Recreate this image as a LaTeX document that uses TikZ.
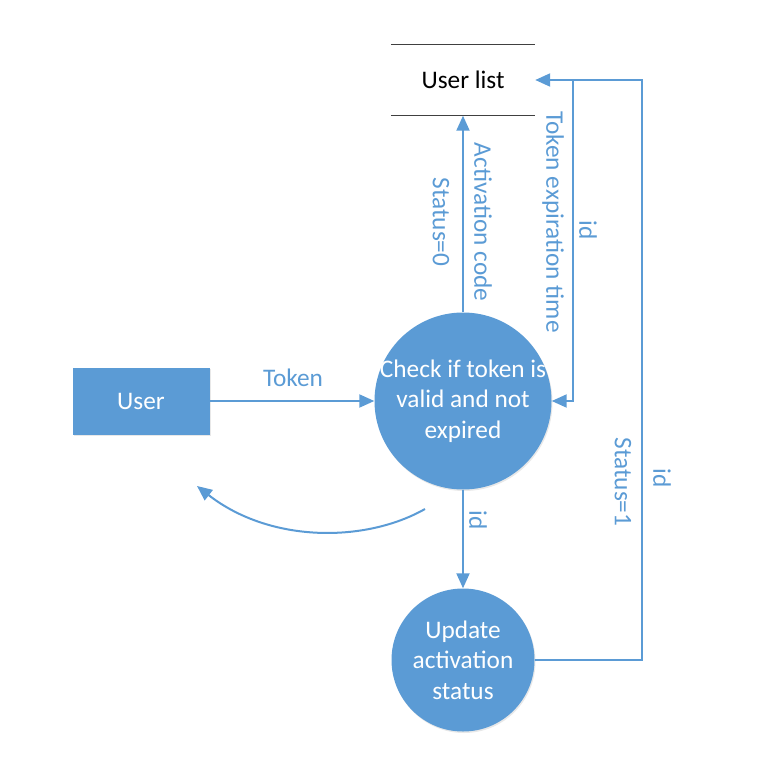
\documentclass[tikz,border=0pt]{standalone}
\usepackage{fontspec}
\setmainfont{Carlito}
\usetikzlibrary{arrows.meta,shadows}
\definecolor{flowblue}{HTML}{5B9BD5}
\definecolor{storegray}{HTML}{404040}
\newcommand{\dfdfont}{\fontsize{25.3}{30.5}\selectfont}

\begin{document}
\begin{tikzpicture}[
    x=1pt, y=-1pt,
    process/.style={circle, fill=flowblue, draw=none, inner sep=0pt,
        drop shadow={opacity=0.18, shadow xshift=1pt, shadow yshift=-1.5pt}},
    proctext/.style={text=white, inner sep=0pt, align=center, font=\dfdfont},
    entity/.style={rectangle, fill=flowblue, draw=none, text=white,
        minimum width=137pt, minimum height=67pt, font=\dfdfont,
        drop shadow={opacity=0.18, shadow xshift=1pt, shadow yshift=-1.5pt}},
    store/.style={rectangle, draw=none, minimum width=144pt,
        minimum height=71pt, font=\dfdfont},
    flow/.style={draw=flowblue, line width=2pt,
        -{Triangle[length=15pt, width=13pt]}},
    flowlabel/.style={text=flowblue, font=\dfdfont, inner sep=0pt}
]
    \useasboundingbox (0,0) rectangle (758,760);
    \node[entity] (user) at (141,401) {User};
    \node[process, minimum size=177pt] (check) at (463,401) {};
    \node[proctext] (checktext) at (check.center)
        {Check if token is\\valid and not\\expired};
    \node[process, minimum size=143pt] (update) at (463,660) {};
    \node[proctext] (updatetext) at (update.center)
        {Update\\activation\\status};
    \node[store] (list) at (463,80) {User list};
    \draw[storegray, line width=1.3pt] (list.north west) -- (list.north east);
    \draw[storegray, line width=1.3pt] (list.south west) -- (list.south east);
    \coordinate (tj) at (573,80);
    \coordinate (rc) at (642,80);
    \coordinate (cs) at (425,509);
    \coordinate (ce) at (197,486);
    \draw[flow] (user) -- (check);
    \draw[flow] (check.north) -- (list.south);
    \draw[flow] (tj) |- (check.east);
    \draw[flow] (check.south) -- (update.north);
    \draw[flow] (update.east) -| (rc) -- (list.east);
    \draw[flow] (cs) .. controls (365,543) and (270,543) .. (ce);
    \node[flowlabel] (ltoken) at (293,378) {Token};
    \node[flowlabel, rotate=-90] (lact) at (483,222) {Activation code};
    \node[flowlabel, rotate=-90] (lst0) at (441,222) {Status=0};
    \node[flowlabel, rotate=-90] (lexp) at (553,222) {Token expiration time};
    \node[flowlabel, rotate=-90] (lid1) at (588,230) {id};
    \node[flowlabel, rotate=-90] (lid2) at (478,520) {id};
    \node[flowlabel, rotate=-90] (lst1) at (623,482) {Status=1};
    \node[flowlabel, rotate=-90] (lid3) at (662,478) {id};
\end{tikzpicture}
\end{document}
